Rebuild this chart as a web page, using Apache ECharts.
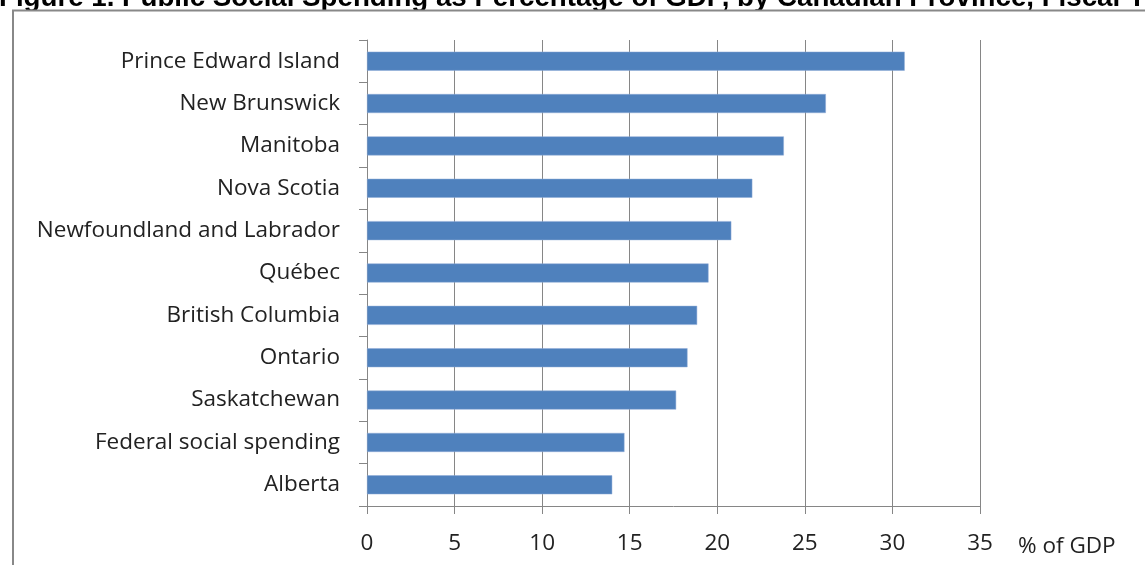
<!DOCTYPE html>
<html>
<head>
<meta charset="utf-8">
<script src="https://cdn.jsdelivr.net/npm/echarts@6/dist/echarts.min.js"></script>
<style>
html,body{margin:0;padding:0;background:#fff;}
#c{width:1145px;height:565px;}
</style>
</head>
<body>
<div id="c"></div>
<script>
const categories = ["Prince Edward Island","New Brunswick","Manitoba","Nova Scotia","Newfoundland and Labrador","Québec","British Columbia","Ontario","Saskatchewan","Federal social spending","Alberta"];
const values = [30.7, 26.2, 23.8, 22.0, 20.8, 19.5, 18.85, 18.3, 17.65, 14.7, 14.0];
const xTicks = [0, 5, 10, 15, 20, 25, 30, 35];
const titleText = "Figure 1. Public Social Spending as Percentage of GDP, by Canadian Province, Fiscal Year";
const axisName = "% of GDP";

const chart = echarts.init(document.getElementById('c'), null, {renderer:'canvas'});
const labelFont = "'Open Sans', sans-serif";
chart.setOption({
  animation: false,
  backgroundColor: '#fff',
  graphic: [
    {type:'text', x:-1, y:12, z:1, style:{text:titleText, font:"bold 27.7px 'Liberation Sans', Arial, sans-serif", fill:'#000', verticalAlign:'bottom', align:'left'}},
    {type:'rect', z:2, shape:{x:0, y:10, width:1145, height:8}, style:{fill:'#fff'}, silent:true},
    {type:'rect', z:3, shape:{x:13, y:10.5, width:1200, height:700}, style:{fill:'none', stroke:'#888', lineWidth:2}, silent:true}
  ],
  grid: {left:367, right:165, top:40, bottom:59, containLabel:false},
  xAxis: {
    type:'value', min:0, max:35, interval:5,
    axisLine:{show:true, lineStyle:{color:'#868686', width:1}},
    axisTick:{show:true, length:8, lineStyle:{color:'#868686'}},
    splitLine:{show:true, lineStyle:{color:'#868686', width:1}},
    axisLabel:{margin:26, fontSize:22.5, fontFamily:labelFont, color:'#222',
      formatter: v => xTicks.includes(v) ? String(v) : ''},
    name: axisName, nameLocation:'end', nameGap:38,
    nameTextStyle:{fontSize:22.5, fontFamily:labelFont, color:'#222', align:'left', verticalAlign:'top', padding:[29,0,0,0]}
  },
  yAxis: {
    type:'category', data:categories, inverse:true,
    axisLine:{show:true, lineStyle:{color:'#868686', width:1}},
    axisTick:{show:true, length:8, lineStyle:{color:'#868686'}},
    splitLine:{show:false},
    axisLabel:{margin:27, fontSize:22.5, fontFamily:labelFont, color:'#222', padding:[3,0,0,0]}
  },
  series: [{
    type:'bar', data:values, barWidth:19,
    itemStyle:{color:'#4f81bd', borderColor:'#8eaad6', borderWidth:0.5},
    silent:true
  }]
});
</script>
</body>
</html>
